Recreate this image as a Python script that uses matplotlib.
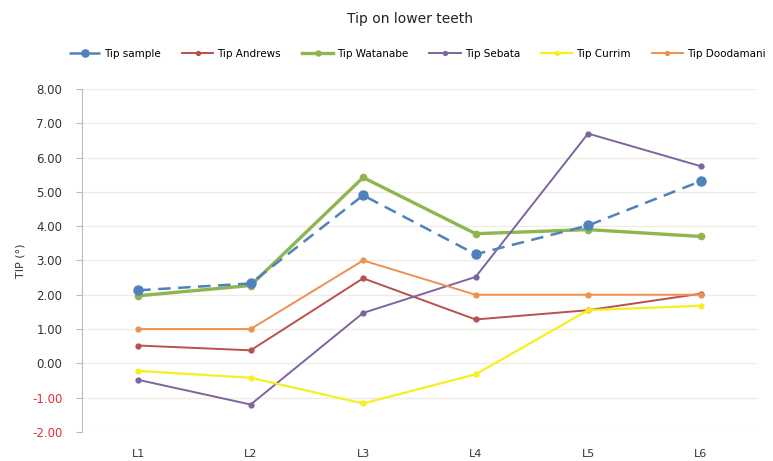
import matplotlib
matplotlib.use('Agg')

import numpy as np
import matplotlib.pyplot as plt

teeth = ["L1", "L2", "L3", "L4", "L5", "L6"]
tip_sample = [2.13, 2.33, 4.90, 3.18, 4.02, 5.31]
tip_andrews = [0.52, 0.38, 2.48, 1.28, 1.55, 2.03]
tip_watanabe = [1.97, 2.27, 5.42, 3.78, 3.90, 3.70]
tip_sebata = [-0.48, -1.20, 1.47, 2.52, 6.70, 5.75]
tip_currim = [-0.22, -0.42, -1.17, -0.32, 1.55, 1.68]
tip_doodamani = [1.00, 1.00, 3.00, 2.00, 2.00, 2.00]

fig = plt.figure(figsize=(7.73, 4.61), dpi=100)
ax = fig.add_axes([0.106, 0.063, 0.873, 0.744])

x = np.arange(len(teeth))

ax.plot(x, tip_sample, color="#4F81BD", lw=1.8, ls=(0, (5, 3)), marker="o", ms=6.5, label="Tip sample", zorder=5)
ax.plot(x, tip_andrews, color="#B9504D", lw=1.4, marker="o", ms=3.5, label="Tip Andrews")
ax.plot(x, tip_watanabe, color="#8FB54F", lw=2.4, marker="o", ms=4.5, label="Tip Watanabe")
ax.plot(x, tip_sebata, color="#7E64A0", lw=1.4, marker="o", ms=3.5, label="Tip Sebata")
ax.plot(x, tip_currim, color="#F5F01E", lw=1.6, marker="o", ms=3.5, label="Tip Currim")
ax.plot(x, tip_doodamani, color="#EE9050", lw=1.4, marker="o", ms=3.5, label="Tip Doodamani")

ax.set_xlim(-0.5, 5.5)
ax.set_ylim(-2, 8)
ax.set_xticks(x)
ax.set_xticklabels(teeth, fontsize=8, color="#333333")
ax.set_yticks(np.arange(-2, 9, 1))
ax.set_yticklabels(["%.2f" % v for v in np.arange(-2, 9, 1)], fontsize=8.5)
for lab, v in zip(ax.get_yticklabels(), np.arange(-2, 9, 1)):
    lab.set_color("#E0303A" if v < 0 else "#333333")

ax.grid(axis="y", color="#EFEDE3", lw=1)
ax.set_axisbelow(True)
for s in ["top", "right", "bottom"]:
    ax.spines[s].set_visible(False)
ax.spines["left"].set_color("#BBBBBB")
ax.tick_params(axis="y", length=4, color="#BBBBBB", pad=10)
ax.tick_params(axis="x", length=0, pad=12)

ax.set_ylabel("TIP (°)", fontsize=8, color="#333333", labelpad=5)

fig.suptitle("Tip on lower teeth", fontsize=10, y=0.975, x=0.53, color="#222222")
fig.legend(loc="upper center", bbox_to_anchor=(0.54, 0.915), ncol=6, frameon=False,
           fontsize=7.5, handlelength=3, columnspacing=2.0, handletextpad=0.4,
           markerscale=0.8)

plt.savefig("out.png", dpi=100)
plt.close()
